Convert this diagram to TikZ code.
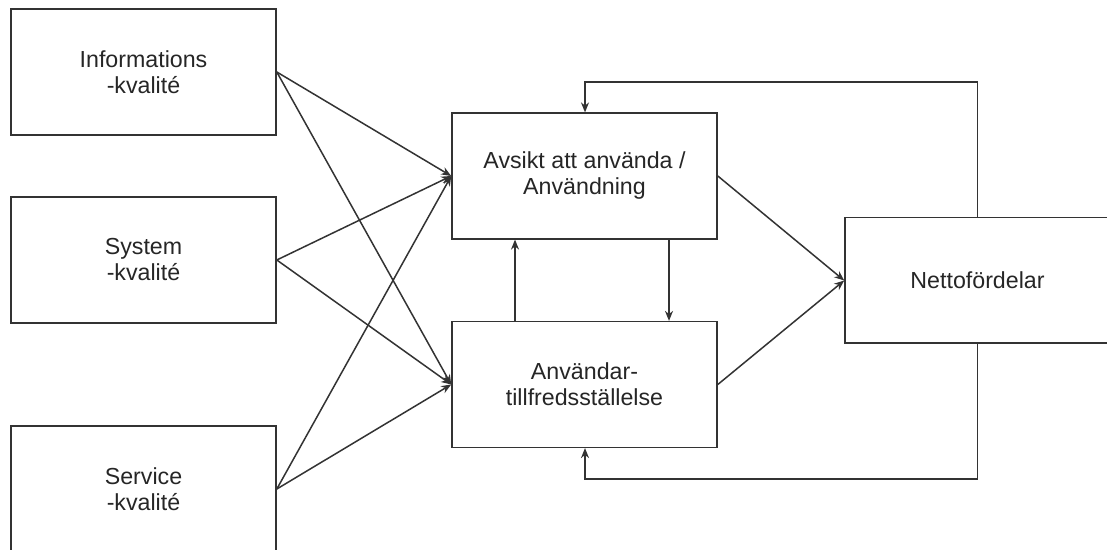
\documentclass[tikz,border=0pt]{standalone}
\usepackage{fontspec}
\setmainfont{Liberation Sans}
\usetikzlibrary{arrows.meta}
\begin{document}
\begin{tikzpicture}[x=0.5pt,y=-0.5pt,
  box/.style={draw=black!80, line width=0.8pt, fill=white, rectangle,
    minimum width=132.5pt, minimum height=62.8pt, inner sep=0pt,
    align=center, text=black!85, font=\fontsize{11.6}{13}\selectfont},
  conn/.style={draw=black!80, line width=0.75pt,
    -{Stealth[length=5pt,width=4pt]}}]
\useasboundingbox (0,0) rectangle (1107,550);
\clip (0,0) rectangle (1107,550);
\fill[white] (0,0) rectangle (1107,550);

% quality factors on the left
\node[box] (info) at (143.5,72) {Informations\\-kvalité};
\node[box] (sys)  at (143.5,260) {System\\-kvalité};
\node[box] (serv) at (143.5,489) {Service\\-kvalité};

% use and satisfaction in the middle
\node[box] (avs) at (584.5,176) {Avsikt att använda /\\Användning};
\node[box] (anv) at (584.5,384.5) {Användar-\\tillfredsställelse};

% outcome on the right
\node[box] (net) at (977.5,280.5) {Nettofördelar};

% helper positions for the orthogonal connectors
\coordinate (up)   at (515,0);
\coordinate (down) at (669,0);
\coordinate (fbT)  at (585,82);
\coordinate (fbB)  at (585,479);

% every quality factor feeds both middle boxes
\foreach \s in {info,sys,serv}{
  \draw[conn] (\s.east) -- (avs.west);
  \draw[conn] (\s.east) -- (anv.west);
}

% mutual links between use and satisfaction
\draw[conn] (anv.north -| up) -- (avs.south -| up);
\draw[conn] (avs.south -| down) -- (anv.north -| down);

% both lead to net benefits
\draw[conn] (avs.east) -- (net.west);
\draw[conn] (anv.east) -- (net.west);

% feedback loops
\draw[conn] (net.north) |- (fbT) -- (avs.north -| fbT);
\draw[conn] (net.south) |- (fbB) -- (anv.south -| fbB);
\end{tikzpicture}
\end{document}
